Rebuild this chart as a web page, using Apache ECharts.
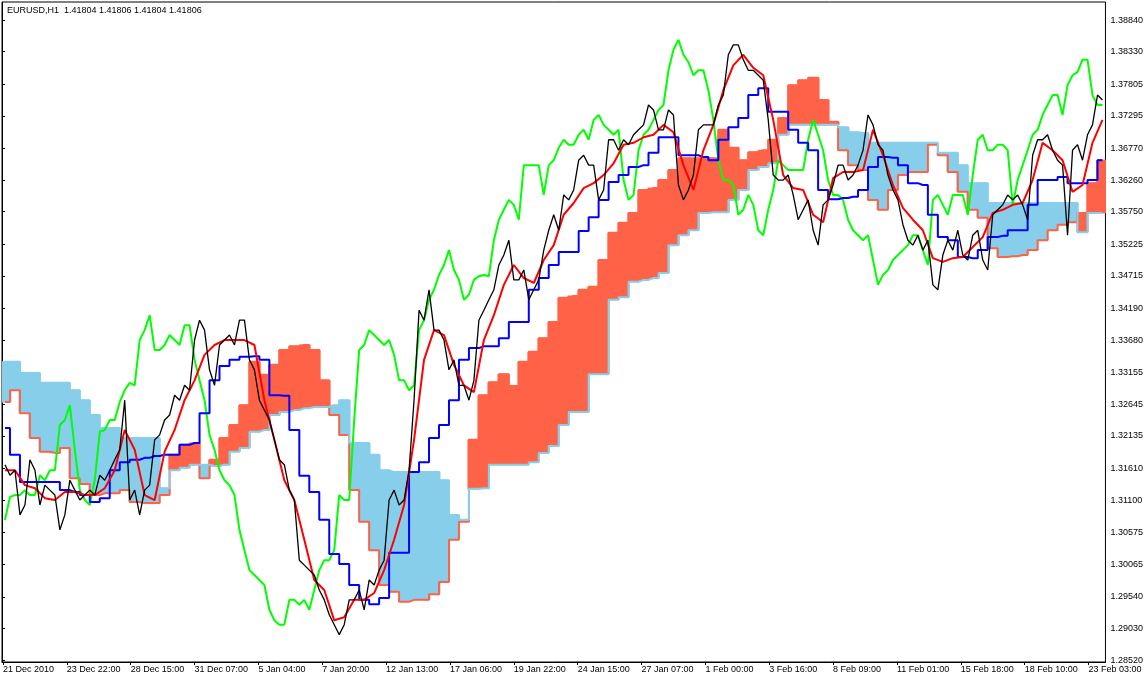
<!DOCTYPE html>
<html><head><meta charset="utf-8">
<script src="https://cdn.jsdelivr.net/npm/echarts@6/dist/echarts.min.js"></script>
<style>html,body{margin:0;padding:0;background:#fff}#c{width:1146px;height:679px}</style>
</head><body><div id="c"></div>
<script>
const symbolTitle = "EURUSD,H1  1.41804 1.41806 1.41804 1.41806";
const tickBars = [1,65,129,193,257,321,385,449,513,577,641,705,769,833,897,961,1025,1089];
const tickLabels = ["21 Dec 2010","23 Dec 22:00","28 Dec 15:00","31 Dec 07:00","5 Jan 04:00","7 Jan 20:00","12 Jan 13:00","17 Jan 06:00","19 Jan 22:00","24 Jan 15:00","27 Jan 07:00","1 Feb 00:00","3 Feb 16:00","8 Feb 09:00","11 Feb 01:00","15 Feb 18:00","18 Feb 10:00","23 Feb 03:00"];
const priceTicks = [1.28520,1.29030,1.29540,1.30065,1.30575,1.31100,1.31610,1.32135,1.32645,1.33155,1.33680,1.34190,1.34715,1.35225,1.35750,1.36260,1.36770,1.37295,1.37805,1.38330,1.38840];
const sampleStart = 3, sampleStep = 10;   // indicator samples: bar index of first, bars between
const fineStart = 3, fineStep = 5;        // close price and chikou samples

const closePrice = [
1.3167,1.3150,1.3158,1.3086,1.3102,1.3175,1.3158,1.3102,1.3134,1.3126,
1.3118,1.3062,1.3086,1.3142,1.3126,1.3110,1.3118,1.3126,1.3118,1.3150,
1.3142,1.3158,1.3175,1.3191,1.3271,1.3110,1.3126,1.3086,1.3126,1.3134,
1.3207,1.3215,1.3239,1.3247,1.3279,1.3271,1.3295,1.3287,1.3368,1.3400,
1.3384,1.3320,1.3295,1.3360,1.3368,1.3376,1.3360,1.3400,1.3400,1.3336,
1.3320,1.3271,1.3255,1.3239,1.3207,1.3175,1.3167,1.3126,1.3110,1.3013,
1.3005,1.2997,1.2989,1.2965,1.2949,1.2925,1.2909,1.2893,1.2909,1.2949,
1.2949,1.2965,1.2933,1.2981,1.2973,1.2997,1.3013,1.3110,1.3126,1.3102,
1.3110,1.3158,1.3271,1.3416,1.3400,1.3449,1.3384,1.3384,1.3368,1.3320,
1.3336,1.3295,1.3295,1.3271,1.3303,1.3400,1.3416,1.3433,1.3449,1.3489,
1.3505,1.3529,1.3465,1.3465,1.3481,1.3433,1.3449,1.3465,1.3513,1.3545,
1.3570,1.3545,1.3602,1.3594,1.3610,1.3658,1.3666,1.3650,1.3650,1.3594,
1.3610,1.3691,1.3691,1.3674,1.3691,1.3683,1.3699,1.3707,1.3715,1.3747,
1.3739,1.3707,1.3707,1.3739,1.3731,1.3618,1.3594,1.3610,1.3634,1.3707,
1.3715,1.3715,1.3715,1.3747,1.3763,1.3828,1.3844,1.3844,1.3820,1.3803,
1.3803,1.3795,1.3787,1.3723,1.3634,1.3626,1.3626,1.3634,1.3602,1.3562,
1.3578,1.3594,1.3545,1.3521,1.3586,1.3594,1.3618,1.3650,1.3650,1.3626,
1.3634,1.3650,1.3674,1.3731,1.3715,1.3683,1.3674,1.3634,1.3610,1.3594,
1.3554,1.3529,1.3521,1.3537,1.3513,1.3529,1.3457,1.3449,1.3505,1.3529,
1.3513,1.3545,1.3505,1.3497,1.3537,1.3545,1.3497,1.3481,1.3570,1.3578,
1.3586,1.3602,1.3594,1.3602,1.3586,1.3562,1.3666,1.3691,1.3691,1.3699,
1.3674,1.3658,1.3650,1.3537,1.3674,1.3683,1.3658,1.3699,1.3715,1.3763,
1.3755];
const chikou = [
1.3078,1.3115,1.3118,1.3118,1.3126,1.3118,1.3118,1.3150,1.3142,1.3158,
1.3158,1.3231,1.3239,1.3263,1.3191,1.3126,1.3110,1.3102,1.3142,1.3220,
1.3223,1.3239,1.3239,1.3268,1.3287,1.3299,1.3295,1.3368,1.3384,1.3408,
1.3352,1.3352,1.3360,1.3376,1.3368,1.3360,1.3392,1.3392,1.3336,1.3303,
1.3271,1.3215,1.3191,1.3158,1.3142,1.3134,1.3118,1.3062,1.3029,1.2997,
1.2989,1.2981,1.2973,1.2933,1.2916,1.2909,1.2909,1.2949,1.2949,1.2941,
1.2949,1.2933,1.2965,1.2997,1.3013,1.3013,1.3029,1.3118,1.3110,1.3110,
1.3239,1.3352,1.3360,1.3384,1.3376,1.3368,1.3360,1.3368,1.3344,1.3303,
1.3303,1.3287,1.3295,1.3384,1.3400,1.3433,1.3449,1.3473,1.3489,1.3513,
1.3481,1.3465,1.3433,1.3441,1.3465,1.3471,1.3473,1.3471,1.3529,1.3562,
1.3578,1.3594,1.3586,1.3562,1.3650,1.3650,1.3650,1.3650,1.3602,1.3650,
1.3658,1.3678,1.3691,1.3683,1.3683,1.3699,1.3707,1.3691,1.3723,1.3731,
1.3715,1.3707,1.3699,1.3707,1.3626,1.3594,1.3602,1.3674,1.3699,1.3707,
1.3723,1.3739,1.3747,1.3803,1.3836,1.3852,1.3828,1.3816,1.3795,1.3803,
1.3803,1.3771,1.3723,1.3658,1.3626,1.3626,1.3618,1.3570,1.3578,1.3602,
1.3586,1.3545,1.3537,1.3578,1.3610,1.3658,1.3650,1.3642,1.3642,1.3642,
1.3642,1.3691,1.3723,1.3699,1.3674,1.3626,1.3602,1.3602,1.3594,1.3562,
1.3545,1.3537,1.3529,1.3537,1.3497,1.3457,1.3473,1.3481,1.3497,1.3505,
1.3513,1.3521,1.3537,1.3537,1.3513,1.3489,1.3594,1.3602,1.3586,1.3570,
1.3602,1.3602,1.3602,1.3570,1.3634,1.3691,1.3699,1.3674,1.3674,1.3683,
1.3683,1.3674,1.3586,1.3626,1.3650,1.3674,1.3699,1.3707,1.3731,1.3747,
1.3763,1.3763,1.3731,1.3779,1.3795,1.3800,1.3820,1.3820,1.3763,1.3747,
1.3747];
const tenkan = [
1.3158,1.3158,1.3134,1.3129,1.3113,1.3110,1.3123,1.3123,1.3118,1.3118,
1.3129,1.3158,1.3223,1.3191,1.3118,1.3110,1.3188,1.3223,1.3271,1.3303,
1.3344,1.3360,1.3368,1.3368,1.3368,1.3360,1.3271,1.3207,1.3142,1.3110,
1.3046,1.2981,1.2965,1.2916,1.2921,1.2949,1.2949,1.2960,1.2997,1.3046,
1.3102,1.3207,1.3336,1.3384,1.3376,1.3328,1.3295,1.3284,1.3368,1.3408,
1.3457,1.3489,1.3468,1.3460,1.3497,1.3521,1.3570,1.3589,1.3613,1.3621,
1.3634,1.3653,1.3683,1.3686,1.3695,1.3699,1.3715,1.3703,1.3650,1.3610,
1.3674,1.3715,1.3771,1.3811,1.3828,1.3807,1.3795,1.3723,1.3634,1.3613,
1.3610,1.3570,1.3558,1.3629,1.3639,1.3639,1.3642,1.3707,1.3666,1.3618,
1.3581,1.3562,1.3545,1.3500,1.3494,1.3500,1.3502,1.3518,1.3534,1.3573,
1.3578,1.3586,1.3589,1.3626,1.3686,1.3674,1.3658,1.3607,1.3618,1.3686,
1.3723];
const kijun = [
1.3226,1.3183,1.3139,1.3139,1.3139,1.3139,1.3126,1.3123,1.3118,1.3107,
1.3113,1.3158,1.3171,1.3175,1.3178,1.3181,1.3183,1.3183,1.3199,1.3202,
1.3250,1.3303,1.3326,1.3336,1.3341,1.3342,1.3336,1.3279,1.3278,1.3223,
1.3149,1.3123,1.3078,1.3023,1.3007,1.2973,1.2949,1.2942,1.2952,1.3025,
1.3025,1.3155,1.3171,1.3210,1.3231,1.3271,1.3336,1.3355,1.3358,1.3358,
1.3371,1.3397,1.3397,1.3449,1.3468,1.3489,1.3510,1.3510,1.3544,1.3566,
1.3594,1.3623,1.3634,1.3647,1.3650,1.3670,1.3695,1.3695,1.3666,1.3666,
1.3663,1.3658,1.3691,1.3711,1.3726,1.3763,1.3774,1.3736,1.3736,1.3707,
1.3686,1.3674,1.3610,1.3595,1.3597,1.3599,1.3610,1.3647,1.3663,1.3662,
1.3650,1.3621,1.3618,1.3570,1.3534,1.3529,1.3502,1.3500,1.3513,1.3534,
1.3536,1.3545,1.3545,1.3586,1.3626,1.3626,1.3631,1.3621,1.3621,1.3626,
1.3658];
const senkouA = [
1.3268,1.3287,1.3250,1.3210,1.3188,1.3186,1.3194,1.3145,1.3136,1.3118,
1.3121,1.3121,1.3126,1.3107,1.3105,1.3105,1.3118,1.3183,1.3199,1.3202,
1.3145,1.3175,1.3210,1.3231,1.3263,1.3333,1.3312,1.3328,1.3352,1.3358,
1.3360,1.3352,1.3303,1.3247,1.3215,1.3126,1.3075,1.3029,1.2973,1.2962,
1.2946,1.2949,1.2949,1.2958,1.2978,1.3046,1.3075,1.3207,1.3279,1.3300,
1.3313,1.3294,1.3333,1.3349,1.3371,1.3397,1.3436,1.3439,1.3449,1.3454,
1.3497,1.3541,1.3557,1.3573,1.3610,1.3613,1.3626,1.3642,1.3661,1.3661,
1.3661,1.3661,1.3707,1.3678,1.3658,1.3671,1.3674,1.3691,1.3726,1.3779,
1.3787,1.3791,1.3755,1.3720,1.3674,1.3650,1.3642,1.3594,1.3578,1.3610,
1.3634,1.3639,1.3639,1.3683,1.3666,1.3639,1.3607,1.3578,1.3565,1.3516,
1.3502,1.3503,1.3505,1.3513,1.3529,1.3545,1.3554,1.3558,1.3573,1.3621,
1.3658];
const senkouB = [
1.3333,1.3333,1.3315,1.3315,1.3299,1.3299,1.3299,1.3287,1.3271,1.3247,
1.3226,1.3226,1.3210,1.3210,1.3210,1.3210,1.3129,1.3158,1.3162,1.3167,
1.3167,1.3165,1.3167,1.3188,1.3194,1.3220,1.3223,1.3247,1.3252,1.3255,
1.3258,1.3260,1.3260,1.3263,1.3271,1.3202,1.3202,1.3183,1.3158,1.3155,
1.3155,1.3155,1.3155,1.3155,1.3142,1.3086,1.3078,1.3128,1.3129,1.3167,
1.3167,1.3167,1.3167,1.3171,1.3186,1.3197,1.3231,1.3252,1.3252,1.3313,
1.3313,1.3433,1.3437,1.3462,1.3465,1.3468,1.3476,1.3521,1.3537,1.3545,
1.3573,1.3574,1.3574,1.3594,1.3610,1.3642,1.3647,1.3653,1.3699,1.3715,
1.3715,1.3715,1.3715,1.3715,1.3711,1.3703,1.3702,1.3686,1.3686,1.3686,
1.3686,1.3686,1.3686,1.3686,1.3670,1.3670,1.3650,1.3621,1.3621,1.3589,
1.3589,1.3589,1.3589,1.3589,1.3589,1.3589,1.3589,1.3589,1.3542,1.3573,
1.3573];

function pts(arr, start, step) { return arr.map((v, i) => [start + i * step, v]); }
const cloudData = senkouA.map((a, i) => [sampleStart + i * sampleStep, a, senkouB[i]]);

const FONT = '"Liberation Sans", Arial, sans-serif';
const chart = echarts.init(document.getElementById('c'), null, { renderer: 'canvas' });
function lineSeries(name, data, color, width, step, z, start, st) {
  return { name, type: 'line', data: pts(data, start === undefined ? sampleStart : start, st || sampleStep),
    symbol: 'none', step: step || false, lineStyle: { color, width }, itemStyle: { color }, z: z || 2, silent: true };
}
chart.setOption({
  animation: false,
  backgroundColor: '#ffffff',
  graphic: [{ type: 'text', left: 7, top: 6, z: 100,
    style: { text: symbolTitle, font: '9px ' + FONT, fill: '#000' } }],
  grid: { left: 2, right: 38, top: 2, bottom: 17, show: true, borderColor: '#000', borderWidth: 1, backgroundColor: 'transparent' },
  xAxis: {
    type: 'value', min: 0, max: 1106,
    axisLine: { show: true, lineStyle: { color: '#000', width: 1 } },
    axisTick: { show: true, customValues: tickBars, length: 3, lineStyle: { color: '#000' } },
    axisLabel: { customValues: tickBars, align: 'left', margin: 3, color: '#000', fontSize: 9, fontFamily: FONT,
      formatter: v => { const k = tickBars.indexOf(Math.round(v)); return k >= 0 ? tickLabels[k] : ''; } },
    splitLine: { show: false }
  },
  yAxis: {
    type: 'value', position: 'right', min: 1.28488, max: 1.39131,
    axisLine: { show: true, lineStyle: { color: '#000', width: 1 } },
    axisTick: { show: true, customValues: priceTicks, length: 3, lineStyle: { color: '#000' } },
    axisLabel: { customValues: priceTicks, margin: 5, color: '#000', fontSize: 9, fontFamily: FONT,
      formatter: v => Number(v).toFixed(5) },
    splitLine: { show: false }
  },
  series: [
    { name: 'Kumo', type: 'custom', data: cloudData, encode: { x: 0, y: [1, 2] }, silent: true, z: 1, clip: true,
      renderItem: (params, api) => {
        const x = api.value(0), a = api.value(1), b = api.value(2);
        const p1 = api.coord([x - sampleStep / 2, a]);
        const p2 = api.coord([x + sampleStep / 2, b]);
        const col = a >= b ? '#FF6347' : '#87CEEB';
        return { type: 'rect',
          shape: { x: Math.floor(p1[0]), y: Math.min(p1[1], p2[1]), width: Math.ceil(p2[0] - p1[0]) + 1, height: Math.abs(p2[1] - p1[1]) },
          style: { fill: col, stroke: col, lineWidth: 1 } };
      } },
    lineSeries('Senkou Span A', senkouA, '#FF6347', 2, 'middle', 2),
    lineSeries('Senkou Span B', senkouB, '#87CEEB', 2, 'middle', 2),
    lineSeries('Chikou Span', chikou, '#00FF00', 2, false, 3, fineStart, fineStep),
    lineSeries('Kijun-sen', kijun, '#0000FF', 2, 'middle', 4),
    lineSeries('Tenkan-sen', tenkan, '#FF0000', 2, false, 5),
    lineSeries('Close', closePrice, '#000000', 1.3, false, 6, fineStart, fineStep)
  ]
});
</script></body></html>
